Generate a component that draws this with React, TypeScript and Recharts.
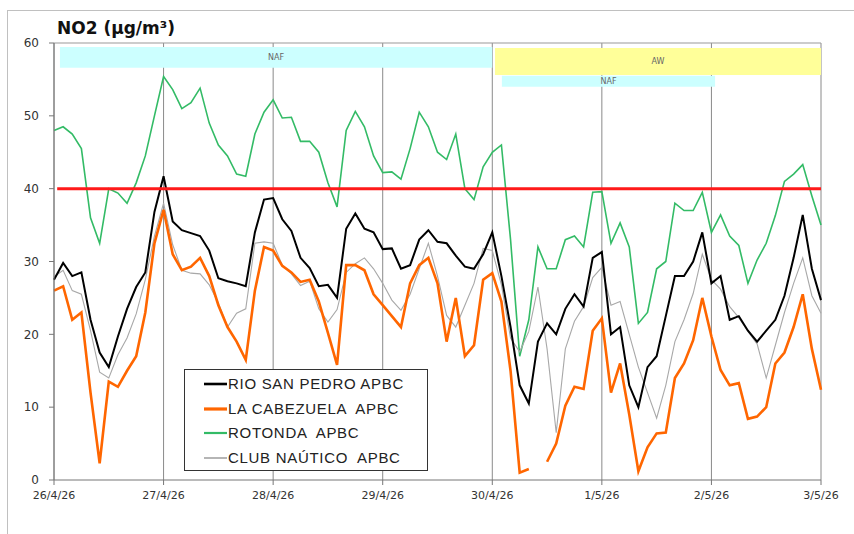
import React from 'react';
import { LineChart, Line, XAxis, YAxis, CartesianGrid, ReferenceLine, ReferenceArea } from 'recharts';

// NO2 hourly values sampled every 2 hours, 26/4/26 00:00 -> 3/5/26 00:00
const RIO_SAN_PEDRO = [
  27.5, 29.8, 28, 28.5, 22, 17.5, 15.5, 19.7, 23.5, 26.5, 28.5, 36.8,
  41.7, 35.5, 34.3, 33.9, 33.5, 31.5, 27.7, 27.3, 27, 26.6, 34, 38.5,
  38.7, 35.8, 34.2, 30.5, 29.1, 26.6, 26.8, 25, 34.5, 36.6, 34.5, 34,
  31.7, 31.8, 29, 29.5, 33, 34.3, 32.7, 32.5, 30.8, 29.3, 29, 31,
  34, 28, 21, 13, 10.5, 19, 21.5, 20, 23.5, 25.5, 23.8, 30.5,
  31.3, 20, 21, 13, 10, 15.5, 17, 22.5, 28, 28, 30, 34,
  27, 28, 22, 22.5, 20.5, 19, 20.5, 22, 25.3, 30.5, 36.4, 29,
  24.7,
];

const LA_CABEZUELA = [
  26, 26.6, 22, 23, 12, 2.3, 13.5, 12.8, 15, 17, 23, 32.5,
  37.1, 31, 28.8, 29.3, 30.5, 28, 24, 21, 19, 16.5, 26, 32,
  31.5, 29.4, 28.5, 27.2, 27.5, 24.5, 20.2, 15.8, 29.5, 29.5, 28.8, 25.5,
  24, 22.5, 21, 27, 29.5, 30.5, 27, 19, 25, 17, 18.5, 27.5,
  28.4, 24.5, 15, 1, 1.5, null, 2.5, 5, 10.2, 12.8, 12.5, 20.5,
  22.2, 12, 16, 9, 1.2, 4.5, 6.4, 6.5, 14, 16, 19.2, 25,
  19.7, 15.1, 13, 13.3, 8.4, 8.7, 10, 16, 17.5, 21, 25.5, 18,
  12.4,
];

const ROTONDA = [
  48, 48.5, 47.5, 45.5, 36, 32.5, 40, 39.4, 38, 40.8, 44.5, 50,
  55.4, 53.6, 51, 51.8, 53.8, 49, 46, 44.5, 42, 41.7, 47.5, 50.5,
  52.2, 49.7, 49.8, 46.5, 46.5, 45, 40.8, 37.5, 48, 50.6, 48.5, 44.5,
  42.2, 42.3, 41.3, 45.5, 50.5, 48.5, 45, 44, 47.5, 40, 38.5, 43,
  45, 46, 33, 17, 22, 32, 29, 29, 33, 33.5, 32, 39.5,
  39.6, 32.5, 35.3, 32, 21.5, 23, 29, 30, 38, 37, 37, 39.5,
  34, 36.4, 33.5, 32.2, 27, 30.2, 32.5, 36.3, 41, 42, 43.3, 39,
  35,
];

const CLUB_NAUTICO = [
  27.9, 28.8, 26, 25.5, 20.5, 14.8, 14, 17.2, 19.5, 22.8, 27.5, 33.5,
  38, 32.3, 28.8, 28.4, 28.3, 26.8, 24.3, 21, 22.9, 23.5, 32.5, 32.7,
  32.5, 29.5, 28.3, 26.7, 27.3, 23.5, 21.7, 23.4, 28.5, 29.7, 30.5, 29,
  27, 24.7, 23.3, 25.5, 29, 32.5, 28, 22.6, 21, 24, 27, 31.8,
  31.5, 26.8, 19.5, 17.6, 20.4, 26.5, 18, 6.5, 18, 21.8, 23.8, 27.8,
  29.2, 24, 24.5, 20, 15.5, 12, 8.5, 13, 19, 22, 25.6, 31,
  27.5, 26.2, 23.8, 22.3, 20.4, 18.7, 14, 18.5, 23, 27, 30.5, 25.3,
  22.9,
];

const DATE_LABELS = ['26/4/26', '27/4/26', '28/4/26', '29/4/26', '30/4/26', '1/5/26', '2/5/26', '3/5/26'];
const X_TICKS = [0, 24, 48, 72, 96, 120, 144, 168];
const Y_TICKS = [0, 10, 20, 30, 40, 50, 60];
const LIMIT = 40;

// episode bands: [label, startHour, endHour, yLow, yHigh, fill]
const BANDS: [string, number, number, number, number, string][] = [
  ['NAF', 1.3, 96, 56.6, 59.45, '#ccffff'],
  ['AW', 96.6, 168, 55.6, 59.3, '#ffff99'],
  ['NAF', 98.1, 144.8, 54.0, 55.5, '#ccffff'],
];

const SERIES = [
  { key: 'rio', name: 'RIO SAN PEDRO APBC', color: '#000000', width: 2 },
  { key: 'cab', name: 'LA CABEZUELA  APBC', color: '#ff6600', width: 2.6 },
  { key: 'rot', name: 'ROTONDA  APBC', color: '#33bb66', width: 1.6 },
  { key: 'club', name: 'CLUB NAÚTICO  APBC', color: '#a8a8a8', width: 1.1 },
];

const W = 854;
const H = 534;

export default function App() {
  const data = RIO_SAN_PEDRO.map((v, i) => ({
    h: i * 2,
    rio: v,
    cab: LA_CABEZUELA[i],
    rot: ROTONDA[i],
    club: CLUB_NAUTICO[i],
  }));
  const drawOrder = ['rot', 'club', 'cab', 'rio'];
  return (
    <div style={{ position: 'absolute', left: 0, top: 0, width: W, height: H, overflow: 'hidden', background: '#fff' }}>
      <div style={{ position: 'absolute', left: 7, top: 10, width: 1000, height: 700, borderLeft: '1px solid #c0c0c0', borderTop: '1px solid #c0c0c0' }} />
      <LineChart width={W} height={H} data={data} margin={{ top: 43, right: 33, bottom: 24, left: 24 }}>
        <CartesianGrid horizontal={false} stroke="#8a8a8a" />
        {BANDS.map(([label, x1, x2, y1, y2, fill], i) => (
          <ReferenceArea key={i} x1={x1} x2={x2} y1={y1} y2={y2} fill={fill} fillOpacity={1} stroke="none"
            label={{ value: label, position: 'center', fontSize: 8, fill: '#666', fontFamily: 'DejaVu Sans' }} />
        ))}
        <ReferenceLine y={60} stroke="#999" />
        <XAxis dataKey="h" type="number" domain={[0, 168]} ticks={X_TICKS} interval={0}
          tickFormatter={(v: number) => DATE_LABELS[Math.round(v / 24)]}
          tick={{ fontSize: 11, fill: '#333', fontFamily: 'DejaVu Sans' }}
          tickSize={5} tickMargin={6} height={30} axisLine={{ stroke: '#777' }} tickLine={{ stroke: '#777' }} />
        <YAxis domain={[0, 60]} ticks={Y_TICKS} interval={0} width={30}
          tick={{ fontSize: 12, fill: '#333', fontFamily: 'DejaVu Sans' }}
          tickSize={5} tickMargin={10} axisLine={{ stroke: '#777' }} tickLine={{ stroke: '#777' }} />
        {drawOrder.map((k) => {
          const s = SERIES.find((x) => x.key === k)!;
          return (
            <Line key={k} type="linear" dataKey={k} name={s.name} stroke={s.color} strokeWidth={s.width}
              dot={false} activeDot={false} isAnimationActive={false} connectNulls={false} />
          );
        })}
        <ReferenceLine segment={[{ x: 0.7, y: LIMIT }, { x: 168, y: LIMIT }]} stroke="#ff1a1a" strokeWidth={3} />
      </LineChart>
      <div style={{ position: 'absolute', left: 57, top: 20, fontFamily: 'DejaVu Sans', fontWeight: 700, fontSize: 17, lineHeight: '17px', color: '#111', whiteSpace: 'pre' }}>
        NO2 (µg/m³)
      </div>
      <div style={{ position: 'absolute', left: 184, top: 369, width: 244, height: 102, border: '1px solid #333', background: '#fff', boxSizing: 'border-box' }}>
        {SERIES.map((s, i) => (
          <div key={s.key} style={{ position: 'absolute', left: 0, top: 2 + i * 24.6, height: 24, width: 244 }}>
            <svg width={30} height={24} style={{ position: 'absolute', left: 18, top: 0 }}>
              <line x1={1} y1={12} x2={24} y2={12} stroke={s.color} strokeWidth={s.width + 0.6} />
            </svg>
            <span style={{ position: 'absolute', left: 43, top: 0, lineHeight: '24px', fontFamily: 'Liberation Sans', fontSize: 15, letterSpacing: 0.7, color: '#222', whiteSpace: 'pre' }}>
              {s.name}
            </span>
          </div>
        ))}
      </div>
    </div>
  );
}
